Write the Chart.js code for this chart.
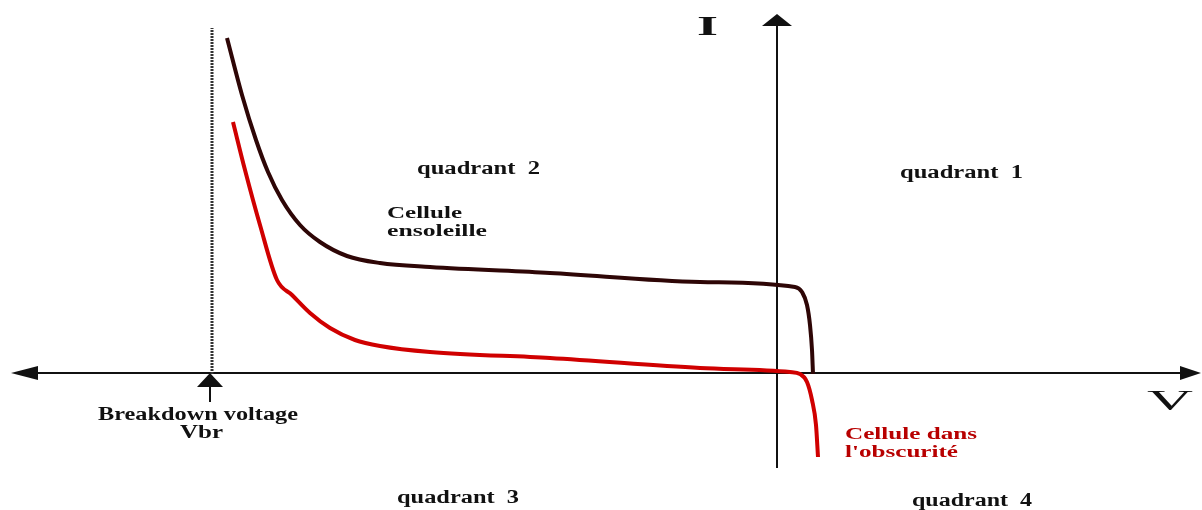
<!DOCTYPE html>
<html>
<head>
<meta charset="utf-8">
<script src="https://cdn.jsdelivr.net/npm/chart.js@4"></script>
<style>
  body { margin: 0; background: #fff; }
  #wrap { width: 1202px; height: 510px; }
</style>
</head>
<body>
<div id="wrap"><canvas id="ivChart" width="1202" height="510"></canvas></div>
<script>
// Curves (V, I in arbitrary units, origin at the axes crossing)
const sunV = [-550, -535, -521, -509, -495, -477, -457, -430, -397, -347, -227, -77, 18, 25, 30, 33, 35, 36];
const sunI = [335, 278, 233, 201, 173, 148, 131, 117, 110, 106, 100, 91, 86, 81, 68, 48, 23, -1];
const darkV = [-544, -532, -517, -500, -485, -467, -447, -422, -397, -347, -227, -77, 13, 23, 30, 35, 39, 41];
const darkI = [251, 203, 148, 93, 78, 60, 45, 33, 27, 21, 15, 5, 1, -1, -9, -27, -52, -84];

const vbr = -565;          // breakdown voltage
const vbrTop = 345;
const vRange = [-777, 425];
const iRange = [-137, 373];

const quadrantLabels = ['quadrant  1', 'quadrant  2', 'quadrant  3', 'quadrant  4'];
const curveLabels = [['Cellule', 'ensoleille'], ['Cellule dans', "l'obscurit\u00e9"]];
const vbrLabels = ['Breakdown voltage', 'Vbr'];
const axisLabels = ['V', 'I'];

const toPts = (xs, ys) => xs.map((x, i) => ({x: x, y: ys[i]}));

// text stretched to a given width (the scan is stretched sideways)
function fitText(ctx, str, left, base, width, font, color) {
    ctx.save();
    ctx.font = font;
    ctx.fillStyle = color;
    ctx.textBaseline = 'alphabetic';
    const w = ctx.measureText(str).width;
    ctx.translate(left, base);
    ctx.scale(width / w, 1);
    ctx.fillText(str, 0, 0);
    ctx.restore();
}

function tri(ctx, pts) {
    ctx.beginPath();
    ctx.moveTo(pts[0][0], pts[0][1]);
    ctx.lineTo(pts[1][0], pts[1][1]);
    ctx.lineTo(pts[2][0], pts[2][1]);
    ctx.closePath();
    ctx.fill();
}

const axesPlugin = {
    id: 'axesPlugin',
    beforeDatasetsDraw(chart) {
        const ctx = chart.ctx;
        const sx = chart.scales.x, sy = chart.scales.y;
        const ox = sx.getPixelForValue(0), oy = sy.getPixelForValue(0);
        ctx.save();
        ctx.strokeStyle = '#111';
        ctx.fillStyle = '#111';
        ctx.lineWidth = 2;
        // V axis
        ctx.beginPath();
        ctx.moveTo(20, oy);
        ctx.lineTo(1192, oy);
        ctx.stroke();
        tri(ctx, [[11, oy], [38, oy - 7], [38, oy + 7]]);
        tri(ctx, [[1201, oy], [1180, oy - 7], [1180, oy + 7]]);
        // I axis
        ctx.beginPath();
        ctx.moveTo(ox, 468);
        ctx.lineTo(ox, 22);
        ctx.stroke();
        tri(ctx, [[ox, 14], [ox - 15, 26], [ox + 15, 26]]);
        // breakdown arrow
        const bx = sx.getPixelForValue(vbr) - 2;
        ctx.beginPath();
        ctx.moveTo(bx, 402);
        ctx.lineTo(bx, 384);
        ctx.stroke();
        tri(ctx, [[bx, oy], [bx - 13, oy + 14], [bx + 13, oy + 14]]);
        ctx.restore();
    },
    afterDatasetsDraw(chart) {
        const ctx = chart.ctx;
        const serif = '"Liberation Serif", "DejaVu Serif", serif';
        fitText(ctx, quadrantLabels[0], 900, 178, 123, 'bold 18px ' + serif, '#111');
        fitText(ctx, quadrantLabels[1], 417, 174, 123, 'bold 18px ' + serif, '#111');
        fitText(ctx, quadrantLabels[2], 397, 503, 122, 'bold 18px ' + serif, '#111');
        fitText(ctx, quadrantLabels[3], 912, 506, 120, 'bold 18px ' + serif, '#111');
        fitText(ctx, curveLabels[0][0], 387, 218, 75, 'bold 16px ' + serif, '#111');
        fitText(ctx, curveLabels[0][1], 387, 236, 100, 'bold 16px ' + serif, '#111');
        fitText(ctx, curveLabels[1][0], 845, 439, 132, 'bold 17px ' + serif, '#b80000');
        fitText(ctx, curveLabels[1][1], 845, 457, 113, 'bold 17px ' + serif, '#b80000');
        fitText(ctx, vbrLabels[0], 98, 420, 200, 'bold 18px ' + serif, '#111');
        fitText(ctx, vbrLabels[1], 180, 438, 43, 'bold 18px ' + serif, '#111');
        fitText(ctx, axisLabels[0], 1147, 410, 46, '30px ' + serif, '#111');
        fitText(ctx, axisLabels[1], 697, 35, 21, 'bold 28px ' + serif, '#111');
    }
};

new Chart(document.getElementById('ivChart'), {
    type: 'scatter',
    data: {
        datasets: [
            {
                label: 'Vbr',
                data: toPts([vbr, vbr], [-1, vbrTop]),
                showLine: true,
                borderColor: '#333',
                borderWidth: 3,
                borderDash: [2, 1],
                pointRadius: 0
            },
            {
                label: 'Cellule dans l\'obscurité',
                data: toPts(darkV, darkI),
                showLine: true,
                borderColor: '#d00000',
                borderWidth: 4,
                cubicInterpolationMode: 'monotone',
                pointRadius: 0
            },
            {
                label: 'Cellule ensoleillée',
                data: toPts(sunV, sunI),
                showLine: true,
                borderColor: '#2e0606',
                borderWidth: 4,
                cubicInterpolationMode: 'monotone',
                pointRadius: 0
            }
        ]
    },
    options: {
        responsive: false,
        animation: false,
        layout: { padding: 0 },
        plugins: { legend: { display: false }, tooltip: { enabled: false } },
        scales: {
            x: { type: 'linear', min: vRange[0], max: vRange[1], display: false },
            y: { type: 'linear', min: iRange[0], max: iRange[1], display: false }
        }
    },
    plugins: [axesPlugin]
});
</script>
</body>
</html>
